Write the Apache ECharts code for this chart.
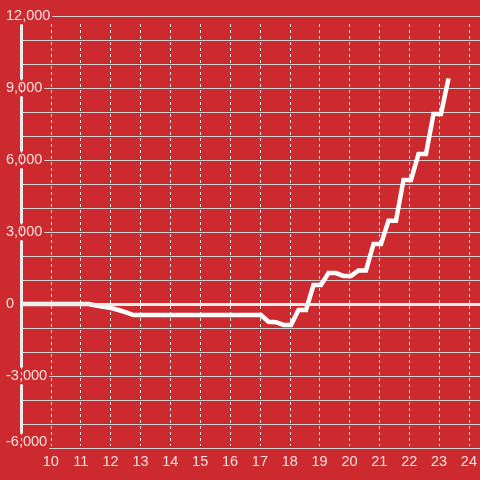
<!DOCTYPE html>
<html>
<head>
<meta charset="utf-8">
<script src="https://cdn.jsdelivr.net/npm/echarts@6/dist/echarts.min.js"></script>
<style>
  html, body { margin: 0; padding: 0; background: #cc2a2e; }
  #main { width: 480px; height: 480px; }
</style>
</head>
<body>
<div id="main"></div>
<script>
// hour of day, at 15 minute steps
const hours = [
  9, 9.25, 9.5, 9.75, 10, 10.25, 10.5, 10.75, 11, 11.25, 11.5, 11.75,
  12, 12.25, 12.5, 12.75, 13, 13.25, 13.5, 13.75, 14, 14.25, 14.5, 14.75,
  15, 15.25, 15.5, 15.75, 16, 16.25, 16.5, 16.75, 17, 17.25, 17.5, 17.75,
  18, 18.25, 18.5, 18.75, 19, 19.25, 19.5, 19.75, 20, 20.25, 20.5, 20.75,
  21, 21.25, 21.5, 21.75, 22, 22.25, 22.5, 22.75, 23, 23.25
];
const values = [
  0, 0, 0, 0, 0, 0, 0, 0, 0, 0, -60, -120,
  -170, -250, -350, -460, -460, -460, -460, -460, -460, -460, -460, -460,
  -460, -460, -460, -460, -460, -460, -460, -460, -460, -740, -760, -870,
  -870, -250, -250, 790, 790, 1290, 1290, 1170, 1170, 1400, 1400, 2500,
  2500, 3470, 3470, 5170, 5170, 6250, 6250, 7920, 7920, 9400
];
const xTicks = [10, 11, 12, 13, 14, 15, 16, 17, 18, 19, 20, 21, 22, 23, 24];
const yLabelStep = 3000;
const yMin = -6000;

const textColor = '#f3e0e0';
const font = 'Liberation Sans, Arial, sans-serif';

const chart = echarts.init(document.getElementById('main'));
chart.setOption({
  backgroundColor: '#cc2a2e',
  animation: false,
  grid: [
    { left: 21, right: 0, top: 16, bottom: 32 },
    { left: 21, right: 10, top: 24, bottom: 34 }
  ],
  xAxis: [
    {
      type: 'value', gridIndex: 0, min: 9, max: 24.3,
      show: false
    },
    {
      type: 'value', gridIndex: 1, min: 9, max: 24, interval: 1,
      z: 2,
      axisLine: { show: false },
      axisTick: { show: false },
      axisLabel: {
        color: textColor, fontSize: 14.5, fontFamily: font, margin: 8,
        formatter: v => (xTicks.indexOf(v) >= 0 ? String(v) : '')
      },
      splitLine: {
        show: true,
        lineStyle: { color: '#e2e2e2', width: 1, type: [3, 3] }
      }
    }
  ],
  yAxis: [
    {
      type: 'value', gridIndex: 0, min: yMin, max: 12000, interval: 1000,
      axisLine: { show: true, lineStyle: { color: '#eeeeee', width: 3 } },
      axisTick: { show: false },
      axisLabel: {
        color: textColor, fontSize: 14.5, fontFamily: font,
        align: 'left', margin: 16,
        backgroundColor: '#cc2a2e', padding: [1, 2, 1, 1],
        formatter: v => {
          if (v % yLabelStep !== 0) return '';
          const s = v.toLocaleString('en-US');
          return v === yMin ? '{low|' + s + '}' : s;
        },
        rich: {
          low: {
            color: textColor, fontSize: 14.5, fontFamily: font,
            padding: [0, 0, 12, 0]
          }
        }
      },
      splitLine: { show: true, lineStyle: { color: '#cfcfcf', width: 1 } }
    },
    {
      type: 'value', gridIndex: 1, show: false
    }
  ],
  series: [
    {
      type: 'line',
      xAxisIndex: 0,
      yAxisIndex: 0,
      data: hours.map((h, i) => [h, values[i]]),
      showSymbol: false,
      lineStyle: { color: '#ffffff', width: 4.5, join: 'miter' },
      markLine: {
        silent: true,
        symbol: 'none',
        label: { show: false },
        lineStyle: { color: '#eeeeee', width: 3, type: 'solid' },
        data: [{ yAxis: 0 }]
      }
    }
  ]
});
</script>
</body>
</html>
